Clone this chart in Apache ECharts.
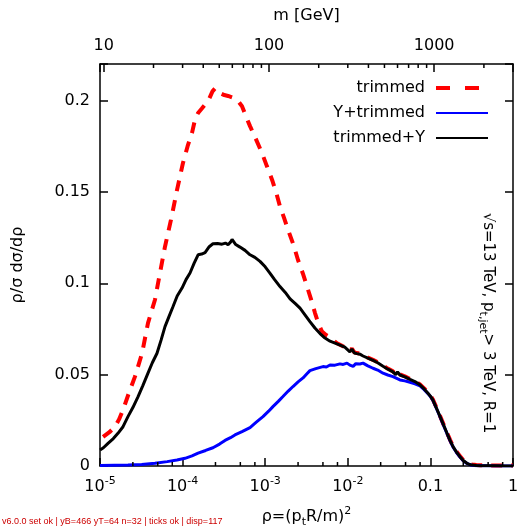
<!DOCTYPE html>
<html>
<head>
<meta charset="utf-8">
<script src="https://cdn.jsdelivr.net/npm/echarts@6/dist/echarts.min.js"></script>
<style>
  html, body { margin: 0; padding: 0; background: #fff; }
  #chart { width: 520px; height: 528px; }
  #diag { position: absolute; left: 2px; top: 516px; font: 9px sans-serif; color: #c00; white-space: nowrap; }
</style>
</head>
<body>
<div id="chart"></div>
<div id="diag"></div>
<script>
const diagMsgs = [];
function diag(m) { diagMsgs.push(m); document.getElementById('diag').textContent = diagMsgs.join(' | '); }
window.addEventListener('error', e => diag('ERR ' + e.message));

// ---- data ----
const rhoTrimmed = [1.09e-5, 1.3e-5, 1.52e-5, 1.7e-5, 1.9e-5, 2.2e-5, 2.65e-5, 3.23e-5, 3.81e-5, 4.63e-5, 5.32e-5, 6.12e-5, 7.24e-5, 8.55e-5, 1.01e-4, 1.15e-4, 1.30e-4, 1.42e-4, 1.54e-4, 1.7e-4, 1.87e-4, 2.1e-4, 2.3e-4, 2.47e-4, 2.7e-4, 2.84e-4, 3.2e-4, 3.55e-4, 4.1e-4, 4.56e-4, 5.24e-4, 5.9e-4, 6.55e-4, 7.7e-4, 9.14e-4, 1.05e-3, 1.21e-3, 1.36e-3, 1.51e-3, 1.7e-3, 1.89e-3, 2.2e-3, 2.49e-3, 2.85e-3, 3.21e-3, 3.6e-3, 4.01e-3, 4.4e-3, 4.87e-3, 5.4e-3, 6.09e-3, 6.7e-3, 7.4e-3, 8.5e-3, 9.78e-3, 1.06e-2, 1.12e-2, 1.2e-2, 1.29e-2, 1.4e-2, 1.53e-2, 1.75e-2, 2.02e-2, 2.3e-2, 2.67e-2, 3.05e-2, 3.52e-2, 3.8e-2, 4.0e-2, 4.28e-2, 4.9e-2, 5.66e-2, 6.5e-2, 7.48e-2, 8.4e-2, 9.35e-2, 0.1, 0.107, 0.118, 0.131, 0.145, 0.159, 0.173, 0.188, 0.207, 0.228, 0.25, 0.277, 0.3, 0.319, 0.36, 0.4, 0.5, 0.6, 0.8, 1.0];
const valTrimmed = [0.0159, 0.0185, 0.0215, 0.0255, 0.0307, 0.0390, 0.0489, 0.0617, 0.0782, 0.0910, 0.1056, 0.1200, 0.1348, 0.1510, 0.1658, 0.1750, 0.1823, 0.1900, 0.1932, 0.1955, 0.1978, 0.2010, 0.2050, 0.2066, 0.2045, 0.2050, 0.2030, 0.2025, 0.2015, 0.2005, 0.1969, 0.1910, 0.1860, 0.1790, 0.1713, 0.1640, 0.1567, 0.1495, 0.1421, 0.1355, 0.1293, 0.1210, 0.1129, 0.1055, 0.0982, 0.0910, 0.0837, 0.0780, 0.0736, 0.0718, 0.0705, 0.0688, 0.0672, 0.0658, 0.0645, 0.0630, 0.0643, 0.0622, 0.0618, 0.0615, 0.0605, 0.0593, 0.0581, 0.0568, 0.0549, 0.0533, 0.0518, 0.0503, 0.0518, 0.0501, 0.0491, 0.0477, 0.0465, 0.0447, 0.0425, 0.0401, 0.0385, 0.0365, 0.0321, 0.0273, 0.0225, 0.0182, 0.0143, 0.0109, 0.0079, 0.0054, 0.0033, 0.0018, 0.0011, 0.0008, 0.0005, 0.0004, 0.0003, 0.0003, 0.0003, 0.0003];

const rhoYTrimmed = [1.0e-5, 1.5e-5, 2.18e-5, 3.2e-5, 4.63e-5, 6.5e-5, 8.55e-5, 1.07e-4, 1.3e-4, 1.54e-4, 1.9e-4, 2.33e-4, 2.8e-4, 3.26e-4, 3.8e-4, 4.3e-4, 5.24e-4, 6.55e-4, 7.8e-4, 9.4e-4, 1.1e-3, 1.24e-3, 1.45e-3, 1.64e-3, 1.9e-3, 2.17e-3, 2.5e-3, 2.87e-3, 3.2e-3, 3.48e-3, 4.1e-3, 5.01e-3, 5.5e-3, 6.09e-3, 7.0e-3, 8.05e-3, 8.8e-3, 9.78e-3, 1.06e-2, 1.16e-2, 1.25e-2, 1.4e-2, 1.53e-2, 1.75e-2, 2.02e-2, 2.3e-2, 2.67e-2, 3.05e-2, 3.52e-2, 4.28e-2, 4.9e-2, 5.66e-2, 6.5e-2, 7.48e-2, 8.4e-2, 9.35e-2, 0.1, 0.107, 0.118, 0.131, 0.145, 0.159, 0.173, 0.188, 0.207, 0.228, 0.25, 0.277, 0.3, 0.319, 0.36, 0.4, 0.5, 0.6, 0.8, 1.0];
const valYTrimmed = [0.0003, 0.0004, 0.0005, 0.0008, 0.0015, 0.0024, 0.0033, 0.0042, 0.0055, 0.0070, 0.0085, 0.0100, 0.0120, 0.0140, 0.0155, 0.0170, 0.0188, 0.0210, 0.0240, 0.0270, 0.0300, 0.0325, 0.0355, 0.0380, 0.0410, 0.0435, 0.0460, 0.0482, 0.0505, 0.0522, 0.0533, 0.0544, 0.0542, 0.0553, 0.0552, 0.0559, 0.0556, 0.0563, 0.0552, 0.0545, 0.0560, 0.0558, 0.0563, 0.0548, 0.0535, 0.0525, 0.0508, 0.0498, 0.0489, 0.0471, 0.0466, 0.0458, 0.0450, 0.0438, 0.0418, 0.0396, 0.0380, 0.0360, 0.0316, 0.0268, 0.0220, 0.0177, 0.0138, 0.0104, 0.0074, 0.0049, 0.0028, 0.0014, 0.0007, 0.0004, 0.0002, 0.0001, 0.0001, 0.0, 0.0, 0.0];

const rhoTrimmedY = [1.0e-5, 1.1e-5, 1.25e-5, 1.45e-5, 1.65e-5, 1.9e-5, 2.18e-5, 2.5e-5, 2.89e-5, 3.3e-5, 3.81e-5, 4.3e-5, 4.9e-5, 5.5e-5, 6.12e-5, 6.8e-5, 7.66e-5, 8.6e-5, 9.84e-5, 1.1e-4, 1.23e-4, 1.38e-4, 1.54e-4, 1.7e-4, 1.87e-4, 2.1e-4, 2.33e-4, 2.65e-4, 3.0e-4, 3.3e-4, 3.55e-4, 3.8e-4, 3.97e-4, 4.4e-4, 4.95e-4, 5.7e-4, 6.55e-4, 7.5e-4, 8.65e-4, 1.0e-3, 1.14e-3, 1.3e-3, 1.51e-3, 1.75e-3, 2.0e-3, 2.3e-3, 2.64e-3, 3.0e-3, 3.48e-3, 4.0e-3, 4.61e-3, 5.3e-3, 6.09e-3, 7.0e-3, 8.05e-3, 9.2e-3, 1.06e-2, 1.12e-2, 1.2e-2, 1.29e-2, 1.4e-2, 1.53e-2, 1.75e-2, 2.02e-2, 2.3e-2, 2.67e-2, 3.05e-2, 3.52e-2, 3.8e-2, 4.0e-2, 4.28e-2, 4.9e-2, 5.66e-2, 6.5e-2, 7.48e-2, 8.4e-2, 9.35e-2, 0.1, 0.107, 0.118, 0.131, 0.145, 0.159, 0.173, 0.188, 0.207, 0.228, 0.25, 0.277, 0.3, 0.319, 0.36, 0.4, 0.5, 0.6, 0.8, 1.0];
const valTrimmedY = [0.0088, 0.0100, 0.0124, 0.0150, 0.0179, 0.0215, 0.0270, 0.0320, 0.0380, 0.0440, 0.0508, 0.0565, 0.0617, 0.0690, 0.0763, 0.0815, 0.0873, 0.0930, 0.0974, 0.1020, 0.1056, 0.1110, 0.1156, 0.1160, 0.1168, 0.1200, 0.1216, 0.1218, 0.1214, 0.1220, 0.1211, 0.1225, 0.1240, 0.1212, 0.1198, 0.1180, 0.1156, 0.1142, 0.1120, 0.1090, 0.1056, 0.1020, 0.0982, 0.0950, 0.0915, 0.0890, 0.0864, 0.0830, 0.0790, 0.0755, 0.0725, 0.0700, 0.0683, 0.0672, 0.0662, 0.0650, 0.0625, 0.0640, 0.0618, 0.0615, 0.0612, 0.0602, 0.0590, 0.0578, 0.0565, 0.0546, 0.0530, 0.0515, 0.0500, 0.0515, 0.0498, 0.0488, 0.0474, 0.0462, 0.0444, 0.0422, 0.0398, 0.0382, 0.0362, 0.0318, 0.0270, 0.0222, 0.0179, 0.0140, 0.0106, 0.0076, 0.0051, 0.0030, 0.0015, 0.0008, 0.0005, 0.0003, 0.0002, 0.0001, 0.0001, 0.0, 0.0];

const seriesNames = ['trimmed', 'Y+trimmed', 'trimmed+Y'];

// tick values
const rhoMajorTicks = [1e-5, 1e-4, 1e-3, 1e-2, 0.1, 1];
const rhoMinorTicks = [2.5e-5, 5e-5, 7.5e-5, 2.5e-4, 5e-4, 7.5e-4, 2.5e-3, 5e-3, 7.5e-3, 2.5e-2, 5e-2, 7.5e-2, 0.25, 0.5, 0.75];
const mMajorTicks = [10, 100, 1000];
const mMinorTicks = [20, 30, 40, 50, 60, 70, 80, 90, 200, 300, 400, 500, 600, 700, 800, 900, 2000];
const yTicks = [0, 0.05, 0.1, 0.15, 0.2];

// m = pT * R * sqrt(rho), pT = 3000 GeV, R = 1
const ptR = 3000;
const rhoMin = 1e-5, rhoMax = 1;
const mMin = Math.round(ptR * Math.sqrt(rhoMin) * 1e4) / 1e4;
const mMax = Math.round(ptR * Math.sqrt(rhoMax));
const yMax = 0.22;

function zip(xs, ys) { return xs.map((x, i) => [x, ys[i]]); }

const FONT = 'DejaVu Sans';
const axisLineStyle = { color: '#000', width: 1.5 };
const tickOpt = { show: true, inside: true, length: 8, lineStyle: { color: '#000', width: 1.5 } };

const chart = echarts.init(document.getElementById('chart'));

function rhoLabel(v) {
  const e = Math.round(Math.log10(v));
  if (e === 0) return '1';
  if (e === -1) return '0.1';
  return '10{sup|' + e + '}';
}

const noteText = {
  type: 'text', id: 'note', x: 488, y: 323, rotation: -Math.PI / 2,
  style: {
    text: '√s=13 TeV, p{sub|t,jet}> 3 TeV, R=1',
    fontFamily: FONT, fontSize: 15, fill: '#000', align: 'center', verticalAlign: 'middle', lineHeight: 22,
    rich: { sub: { fontFamily: FONT, fontSize: 11, verticalAlign: 'bottom', lineHeight: 22, fill: '#000' } }
  }
};

const option = {
  animation: false,
  grid: { left: 100, right: 7, top: 64, bottom: 62, outerBoundsMode: 'none' },
  legend: {
    orient: 'vertical', align: 'right', right: 25, top: 75,
    itemWidth: 52, itemHeight: 14, itemGap: 9,
    itemStyle: { opacity: 0 },
    textStyle: { fontFamily: FONT, fontSize: 16, color: '#000', padding: [0, 6, 0, 0] },
    data: [
      { name: seriesNames[0], lineStyle: { type: [14, 15], width: 4, color: '#ff0000' } },
      { name: seriesNames[1] },
      { name: seriesNames[2] }
    ]
  },
  xAxis: [
    {
      type: 'log', min: rhoMin, max: rhoMax, position: 'bottom',
      name: 'ρ=(p{sub|t}R/m){sup|2}', nameLocation: 'middle', nameGap: 40,
      nameTextStyle: {
        fontFamily: FONT, fontSize: 16, color: '#000', lineHeight: 22,
        rich: {
          sub: { fontFamily: FONT, fontSize: 11, verticalAlign: 'bottom', lineHeight: 22 },
          sup: { fontFamily: FONT, fontSize: 11, verticalAlign: 'top', lineHeight: 22 }
        }
      },
      axisLine: { show: true, onZero: false, lineStyle: axisLineStyle },
      axisTick: tickOpt,
      axisLabel: {
        show: true, margin: 10, fontFamily: FONT, fontSize: 16, color: '#000', lineHeight: 22,
        customValues: rhoMajorTicks, formatter: rhoLabel,
        rich: { sup: { fontFamily: FONT, fontSize: 11, verticalAlign: 'top', lineHeight: 22 } }
      },
      splitLine: { show: false }
    },
    {
      type: 'log', min: mMin, max: mMax, position: 'top',
      name: 'm [GeV]', nameLocation: 'middle', nameGap: 40,
      nameTextStyle: { fontFamily: FONT, fontSize: 16, color: '#000' },
      axisLine: { show: true, onZero: false, lineStyle: axisLineStyle },
      axisTick: tickOpt,
      axisLabel: { show: true, margin: 10, fontFamily: FONT, fontSize: 16, color: '#000', customValues: mMajorTicks,
        formatter: v => String(Math.round(v)) },
      splitLine: { show: false }
    }
  ],
  yAxis: [
    {
      type: 'value', min: 0, max: yMax, interval: 0.05, position: 'left',
      name: 'ρ/σ dσ/dρ', nameLocation: 'middle', nameGap: 74,
      nameTextStyle: { fontFamily: FONT, fontSize: 16, color: '#000' },
      axisLine: { show: true, onZero: false, lineStyle: axisLineStyle },
      axisTick: tickOpt,
      axisLabel: { show: true, margin: 10, fontFamily: FONT, fontSize: 16, color: '#000', customValues: yTicks,
        formatter: v => String(Math.round(v * 100) / 100) },
      splitLine: { show: false }
    },
    {
      type: 'value', min: 0, max: yMax, interval: 0.05, position: 'right',
      axisLine: { show: true, onZero: false, lineStyle: axisLineStyle },
      axisTick: tickOpt,
      axisLabel: { show: false },
      splitLine: { show: false }
    }
  ],
  series: [
    {
      name: seriesNames[0], type: 'line', xAxisIndex: 0, yAxisIndex: 0,
      data: zip(rhoTrimmed, valTrimmed), symbol: 'none',
      lineStyle: { color: '#ff0000', width: 4, type: [11, 9] }, itemStyle: { color: '#ff0000' }, z: 2
    },
    {
      name: seriesNames[1], type: 'line', xAxisIndex: 0, yAxisIndex: 0,
      data: zip(rhoYTrimmed, valYTrimmed), symbol: 'none',
      lineStyle: { color: '#0000ff', width: 3 }, itemStyle: { color: '#0000ff' }, z: 3
    },
    {
      name: seriesNames[2], type: 'line', xAxisIndex: 0, yAxisIndex: 0,
      data: zip(rhoTrimmedY, valTrimmedY), symbol: 'none',
      lineStyle: { color: '#000000', width: 3 }, itemStyle: { color: '#000000' }, z: 4
    }
  ],
  graphic: [noteText]
};

try { chart.setOption(option); diag('v' + echarts.version + ' set ok'); } catch (e) { diag('setOption: ' + e.message); }

// Minor inside ticks, positioned through the chart's own axis scales.
function tickGraphics() {
  const px = (finder, v) => chart.convertToPixel(finder, v);
  const yBottom = px({ yAxisIndex: 0 }, 0);
  const yTop = px({ yAxisIndex: 0 }, yMax);
  const els = [];
  const add = (x1, y1, x2, y2) => els.push({
    type: 'line', shape: { x1, y1, x2, y2 }, style: { stroke: '#000', lineWidth: 1.5 }, z: 100, silent: true
  });
  rhoMinorTicks.forEach(v => { const x = px({ xAxisIndex: 0 }, v); add(x, yBottom, x, yBottom - 4); });
  mMinorTicks.forEach(v => { const x = px({ xAxisIndex: 1 }, v); add(x, yTop, x, yTop + 4); });
  diag('yB=' + Math.round(yBottom) + ' yT=' + Math.round(yTop) + ' n=' + els.length);
  return els;
}
try { chart.setOption({ graphic: [noteText].concat(tickGraphics()) }, { replaceMerge: ['graphic'] }); diag('ticks ok'); }
catch (e) { diag('ticks: ' + e.message); }
try { diag('disp=' + chart.getZr().storage.getDisplayList(true).length); } catch (e) { diag('dl: ' + e.message); }
</script>
</body>
</html>
